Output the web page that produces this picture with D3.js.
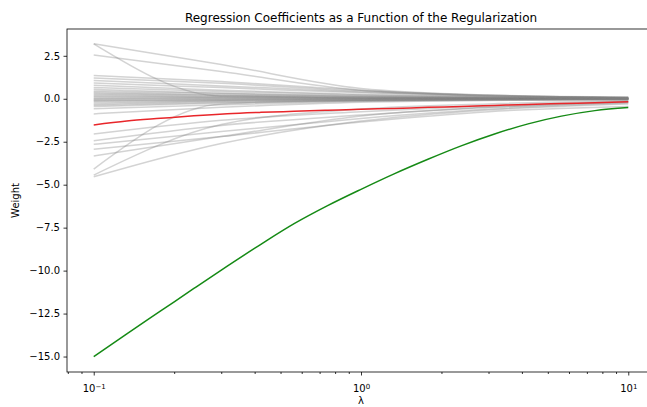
<!DOCTYPE html>
<html>
<head>
<meta charset="utf-8">
<script src="https://cdn.jsdelivr.net/npm/d3@7"></script>
<style>
  body { margin: 0; background: #fff; }
  text { font-family: "DejaVu Sans", sans-serif; fill: #000; }
</style>
</head>
<body>
<div id="chart"></div>
<script>
// ridge path: gray = all other features, red / green = highlighted ones
var lambdas = [0.1, 0.3, 1, 3, 10];
var grayWeights = [
  [3.20, 2.00, 0.60, 0.22, 0.10],
  [3.20, 0.15, 0.08, 0.04, 0.02],
  [2.55, 1.58, 0.50, 0.20, 0.08],
  [1.36, 1.00, 0.50, 0.20, 0.08],
  [1.21, 0.90, 0.45, 0.18, 0.07],
  [1.07, 0.75, 0.40, 0.15, 0.06],
  [0.92, 0.65, 0.35, 0.14, 0.05],
  [0.78, 0.50, 0.25, 0.10, 0.05],
  [0.65, 0.42, 0.22, 0.10, 0.04],
  [0.55, 0.32, 0.16, 0.08, 0.03],
  [0.45, 0.30, 0.15, 0.05, 0.02],
  [0.38, 0.22, 0.10, 0.05, 0.02],
  [0.30, 0.20, 0.10, 0.04, 0.01],
  [0.25, 0.15, 0.05, 0.02, 0.01],
  [0.18, 0.10, 0.05, 0.02, 0.00],
  [0.12, 0.08, 0.03, 0.01, 0.00],
  [0.05, 0.04, 0.02, 0.00, 0.00],
  [0.00, 0.02, 0.00, -0.01, 0.00],
  [-0.05, -0.03, -0.02, -0.01, -0.01],
  [-0.10, -0.05, -0.03, -0.02, -0.01],
  [-0.15, -0.08, -0.05, -0.03, -0.02],
  [-0.22, -0.12, -0.06, -0.03, -0.02],
  [-0.30, -0.15, -0.08, -0.04, -0.03],
  [-0.38, -0.20, -0.10, -0.05, -0.03],
  [-0.45, -0.25, -0.12, -0.06, -0.04],
  [-0.58, -0.35, -0.15, -0.08, -0.05],
  [-0.88, -0.50, -0.20, -0.10, -0.05],
  [-2.05, -1.25, -0.75, -0.40, -0.15],
  [-2.44, -1.55, -0.95, -0.50, -0.20],
  [-2.65, -1.90, -1.15, -0.60, -0.25],
  [-2.94, -2.20, -1.35, -0.75, -0.45],
  [-3.33, -2.20, -1.00, -0.50, -0.20],
  [-4.09, -0.30, -0.10, -0.05, -0.02],
  [-4.44, -1.50, -0.60, -0.30, -0.12],
  [-4.54, -2.60, -1.30, -0.65, -0.30]
];
// the two highlighted paths, read on an even log grid (8 steps per decade)
var lambdaFine = [0.1, 0.133, 0.178, 0.237, 0.316, 0.422, 0.562, 0.75, 1,
                  1.33, 1.78, 2.37, 3.16, 4.22, 5.62, 7.5, 10];
var redWeights = [-1.52, -1.30, -1.14, -0.99, -0.87, -0.79, -0.73, -0.67, -0.61,
                  -0.56, -0.50, -0.45, -0.39, -0.33, -0.28, -0.23, -0.18];
var greenWeights = [-15.0, -13.68, -12.35, -11.04, -9.74, -8.47, -7.27, -6.22, -5.27,
                    -4.37, -3.52, -2.74, -2.05, -1.46, -1.01, -0.69, -0.51];
var yTicks = [2.5, 0, -2.5, -5, -7.5, -10, -12.5, -15];
var xTicks = [0.1, 1, 10];
var xTickExp = ["−1", "0", "1"];
var xMinor = [0.08, 0.09, 0.2, 0.3, 0.4, 0.5, 0.6, 0.7, 0.8, 0.9,
              2, 3, 4, 5, 6, 7, 8, 9];

var W = 647, H = 407;
var L = 67, R = 655, T = 29, B = 372;
var svg = d3.select("#chart").append("svg")
  .attr("width", W).attr("height", H);

var x = d3.scaleLog().domain([Math.pow(10, -1.1), Math.pow(10, 1.1)]).range([L, R]);
var y = d3.scaleLinear().domain([-15.9, 4.06]).range([B, T]);

var line = d3.line()
  .x(function (d) { return x(d[0]); })
  .y(function (d) { return y(d[1]); })
  .curve(d3.curveMonotoneX);

var plot = svg.append("g");
grayWeights.forEach(function (w) {
  plot.append("path")
    .attr("d", line(lambdas.map(function (l, i) { return [l, w[i]]; })))
    .attr("fill", "none").attr("stroke", "#808080")
    .attr("stroke-opacity", 0.35).attr("stroke-width", 1.5);
});
plot.append("path")
  .attr("d", line(lambdaFine.map(function (l, i) { return [l, redWeights[i]]; })))
  .attr("fill", "none").attr("stroke", "#e8262a").attr("stroke-width", 1.5);
plot.append("path")
  .attr("d", line(lambdaFine.map(function (l, i) { return [l, greenWeights[i]]; })))
  .attr("fill", "none").attr("stroke", "#158a15").attr("stroke-width", 1.5);

// axes
var yAxis = svg.append("g").attr("transform", "translate(" + L + ",0)")
  .call(d3.axisLeft(y).tickValues(yTicks).tickSize(3.5).tickPadding(3.5)
        .tickFormat(d3.format(".1f")));
yAxis.select(".domain").remove();
yAxis.selectAll("text").attr("font-size", "10px").style("font-family", "DejaVu Sans");

var xAxis = svg.append("g").attr("transform", "translate(0," + B + ")")
  .call(d3.axisBottom(x).tickValues(xTicks).tickSize(3.5).tickFormat(""));
xAxis.select(".domain").remove();
xAxis.selectAll(".tick").each(function (d, i) {
  var t = d3.select(this).append("text")
    .attr("y", 20).attr("text-anchor", "middle")
    .attr("font-size", "10px").attr("fill", "#000");
  t.append("tspan").text("10");
  t.append("tspan").attr("dy", "-0.45em").attr("font-size", "7px").text(xTickExp[i]);
});
var xMinorAxis = svg.append("g").attr("transform", "translate(0," + B + ")")
  .call(d3.axisBottom(x).tickValues(xMinor).tickSize(2).tickFormat(""));
xMinorAxis.select(".domain").remove();
svg.selectAll(".tick line").attr("stroke", "#000").attr("stroke-width", 0.8);

svg.append("rect")
  .attr("x", L).attr("y", T).attr("width", R - L).attr("height", B - T)
  .attr("fill", "none").attr("stroke", "#000").attr("stroke-width", 0.8);

svg.append("text")
  .attr("x", (L + R) / 2).attr("y", T - 7).attr("text-anchor", "middle")
  .attr("font-size", "12px")
  .text("Regression Coefficients as a Function of the Regularization");
svg.append("text")
  .attr("x", (L + R) / 2).attr("y", 404).attr("text-anchor", "middle")
  .attr("font-size", "10px").text("λ");
svg.append("text")
  .attr("transform", "translate(19," + ((T + B) / 2) + ") rotate(-90)")
  .attr("text-anchor", "middle").attr("font-size", "10px").text("Weight");
</script>
</body>
</html>
